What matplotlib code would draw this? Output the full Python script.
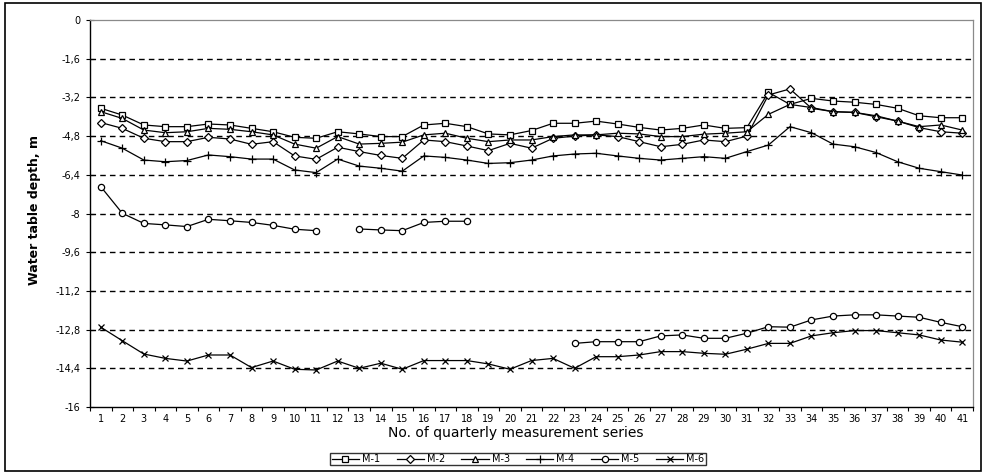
import numpy as np
import matplotlib
matplotlib.use("Agg")
import matplotlib.pyplot as plt
from matplotlib.patches import Rectangle
from matplotlib.ticker import FixedLocator

nan = np.nan
series_x = list(range(1, 42))
x_labels = [str(i) for i in series_x]
y_ticks = [0, -1.6, -3.2, -4.8, -6.4, -8, -9.6, -11.2, -12.8, -14.4, -16]
y_labels = ["0", "-1,6", "-3,2", "-4,8", "-6,4", "-8", "-9,6", "-11,2", "-12,8", "-14,4", "-16"]

m1 = [-3.65, -3.93, -4.34, -4.41, -4.41, -4.30, -4.34, -4.48, -4.62, -4.85,
      -4.89, -4.62, -4.71, -4.82, -4.82, -4.34, -4.27, -4.41, -4.71, -4.75,
      -4.57, -4.27, -4.27, -4.18, -4.30, -4.44, -4.55, -4.48, -4.34, -4.48,
      -4.45, -2.99, -3.49, -3.24, -3.35, -3.40, -3.49, -3.65, -3.96, -4.04, -4.04]
m2 = [-4.24, -4.48, -4.89, -5.03, -5.03, -4.85, -4.92, -5.14, -5.03, -5.62,
      -5.76, -5.26, -5.44, -5.60, -5.72, -4.96, -5.03, -5.21, -5.40, -5.10,
      -5.30, -4.89, -4.80, -4.75, -4.82, -5.03, -5.24, -5.14, -4.96, -5.03,
      -4.80, -3.10, -2.85, -3.65, -3.79, -3.82, -4.00, -4.18, -4.45, -4.62, -4.68]
m3 = [-3.79, -4.07, -4.55, -4.66, -4.62, -4.48, -4.52, -4.62, -4.75, -5.13,
      -5.30, -4.82, -5.13, -5.10, -5.05, -4.75, -4.68, -4.89, -5.03, -4.96,
      -4.96, -4.82, -4.75, -4.75, -4.68, -4.71, -4.82, -4.82, -4.72, -4.68,
      -4.62, -3.90, -3.49, -3.62, -3.79, -3.82, -3.96, -4.18, -4.41, -4.34, -4.55]
m4 = [-4.99, -5.30, -5.79, -5.86, -5.81, -5.58, -5.65, -5.75, -5.75, -6.20,
      -6.31, -5.75, -6.04, -6.13, -6.25, -5.62, -5.68, -5.79, -5.93, -5.90,
      -5.79, -5.62, -5.54, -5.51, -5.62, -5.72, -5.79, -5.72, -5.65, -5.72,
      -5.44, -5.17, -4.41, -4.66, -5.13, -5.24, -5.48, -5.86, -6.13, -6.27, -6.41]
m5 = [-6.89, -7.99, -8.41, -8.47, -8.54, -8.24, -8.30, -8.37, -8.49, -8.65,
      -8.71, nan, -8.64, -8.68, -8.71, -8.37, -8.32, -8.32, nan, nan,
      nan, nan, -13.37, -13.30, -13.30, -13.30, -13.06, -13.02, -13.16, -13.16,
      -12.95, -12.68, -12.70, -12.40, -12.24, -12.19, -12.19, -12.24, -12.29, -12.50, -12.68]
m6 = [-12.70, -13.26, -13.81, -13.99, -14.10, -13.85, -13.85, -14.37, -14.10, -14.44,
      -14.47, -14.10, -14.40, -14.19, -14.44, -14.08, -14.08, -14.08, -14.22, -14.44,
      -14.08, -13.99, -14.40, -13.92, -13.92, -13.85, -13.71, -13.71, -13.78, -13.82,
      -13.61, -13.37, -13.37, -13.06, -12.93, -12.84, -12.84, -12.93, -13.02, -13.23, -13.32]

names = ["M-1", "M-2", "M-3", "M-4", "M-5", "M-6"]
values = [m1, m2, m3, m4, m5, m6]
markers = ["s", "D", "^", "+", "o", "x"]
msizes = [5, 4, 5, 6, 4.5, 5]

plt.rcParams['font.family'] = ['DejaVu Sans']

W, H = 986, 474
fig = plt.figure(figsize=(W / 100, H / 100), dpi=100)
fig.patch.set_facecolor("white")

# outer chart frame
fig.add_artist(Rectangle((5 / W, 1 - 471 / H), 976 / W, 468 / H, transform=fig.transFigure,
                         fill=False, edgecolor="black", linewidth=1.2))

ax = fig.add_axes([90 / W, 1 - 407 / H, 883 / W, 387 / H])
ax.set_facecolor("white")

handles = []
for name, vals, mk, ms in zip(names, values, markers, msizes):
    h, = ax.plot(series_x, vals, color="black", linewidth=0.9, marker=mk, markersize=ms,
                 markerfacecolor="white", markeredgecolor="black", markeredgewidth=0.9,
                 label=name)
    handles.append(h)

ax.set_xlim(0.5, 41.5)
ax.set_ylim(-16, 0)

for yv in y_ticks[1:-1]:
    ax.axhline(yv, color="black", linewidth=1.0, linestyle=(0, (4, 3)), zorder=0)

ax.set_yticks(y_ticks)
ax.set_yticklabels(y_labels)
ax.set_xticks(series_x)
ax.set_xticklabels(x_labels)
ax.xaxis.set_minor_locator(FixedLocator([i + 0.5 for i in range(0, 42)]))
ax.tick_params(axis="x", which="major", length=0, labelsize=7, pad=5)
ax.tick_params(axis="x", which="minor", length=3, direction="out", width=0.8)
ax.tick_params(axis="y", which="major", length=6, direction="inout", width=0.8, labelsize=7, pad=4)

for s in ["top", "right"]:
    ax.spines[s].set_color("#8a8a8a")
    ax.spines[s].set_linewidth(0.9)
for s in ["left", "bottom"]:
    ax.spines[s].set_color("black")
    ax.spines[s].set_linewidth(1.0)

fig.text(35 / W, 1 - 210 / H, "Water table depth, m", rotation=90, ha="center", va="center",
         fontsize=9, fontweight="bold")
fig.text(516 / W, 1 - 433 / H, "No. of quarterly measurement series", ha="center", va="center",
         fontsize=10)

leg = fig.legend(handles=handles, labels=names, loc="center", ncol=6,
                 bbox_to_anchor=(518 / W, 1 - 459 / H), fontsize=7, frameon=True,
                 fancybox=False, edgecolor="black", handlelength=2.8, handletextpad=0.3,
                 columnspacing=1.7, borderpad=0.15, borderaxespad=0)
leg.get_frame().set_linewidth(1.0)

fig.savefig("out.png", dpi=100, facecolor="white")
